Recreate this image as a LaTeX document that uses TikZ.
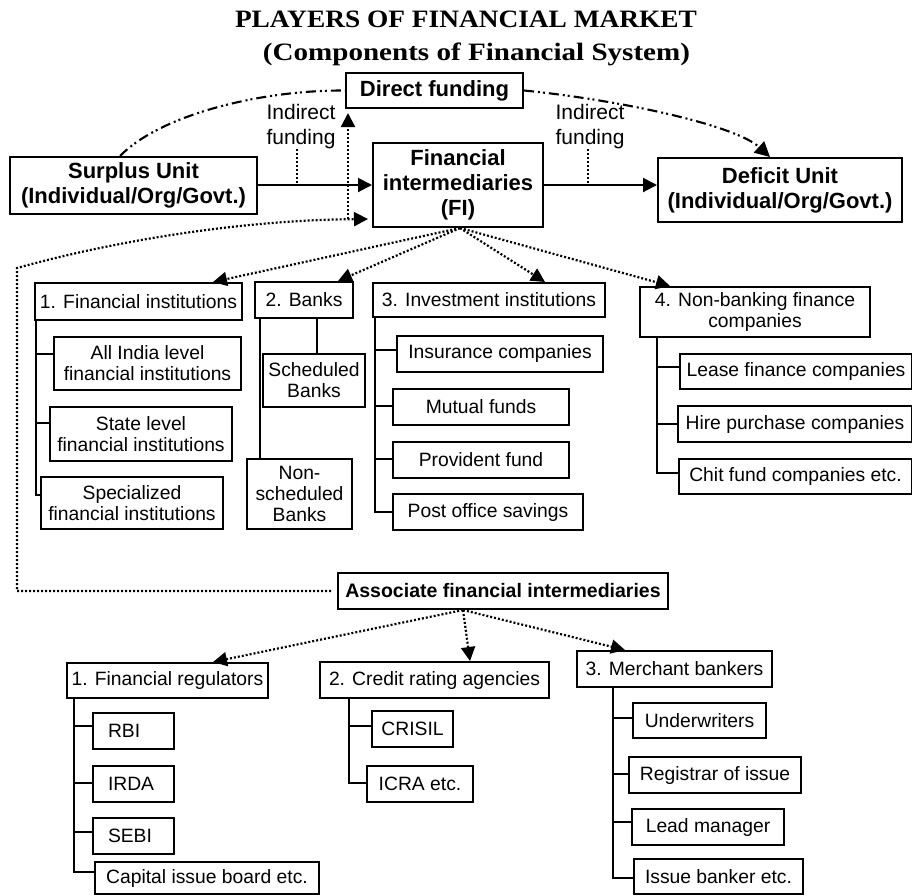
\documentclass[tikz,border=0pt]{standalone}
\usepackage{fontspec}
\usepackage{graphicx}
\setmainfont{Liberation Sans}
\newfontfamily\titlefont{Liberation Serif}
\usetikzlibrary{arrows.meta}
\newcommand\bx[7][]{%
  \pgfmathsetmacro\bxcx{(#3+#5)/2}%
  \pgfmathsetmacro\bxcy{(#4+#6)/2}%
  \pgfmathsetmacro\bxw{#5-#3}%
  \pgfmathsetmacro\bxh{#6-#4}%
  \node[boxst,minimum width=\bxw pt,minimum height=\bxh pt,#1] (#2) at (\bxcx,\bxcy) {#7};%
}
\tikzset{
 boxst/.style={draw, line width=2pt, inner sep=0pt, align=center, font=\fontsize{19.3}{21}\selectfont},
 boldbig/.style={font=\bfseries\fontsize{22}{25}\selectfont},
 boldsm/.style={font=\bfseries\fontsize{19.5}{22}\selectfont},
 lbl/.style={align=center, inner sep=0pt, font=\fontsize{21}{25}\selectfont},
 arr/.style={line width=2pt, -{Triangle[length=14pt,width=14pt]}},
 dotln/.style={line width=2.2pt, dash pattern=on 2pt off 2pt},
 dotarr/.style={dotln, -{Triangle[length=14pt,width=14pt]}},
 ddash/.style={line width=2.1pt, dash pattern=on 10pt off 4pt on 2pt off 3pt on 2pt off 4pt},
 trunk/.style={line width=2pt},
 lft/.style={align=left, text width=51pt},
}
\begin{document}
\begin{tikzpicture}[x=1pt,y=-1pt]
\fill[white] (0,0) rectangle (912,895);
\useasboundingbox (0,0) rectangle (912,895);

% title
\node[anchor=base, inner sep=0pt] (t1) at (466,27) {\resizebox{462pt}{\height}{\titlefont\bfseries\fontsize{25}{28}\selectfont PLAYERS OF FINANCIAL MARKET}};
\node[anchor=base, inner sep=0pt] (t2) at (476.5,60) {\resizebox{427pt}{\height}{\titlefont\bfseries\fontsize{25}{28}\selectfont (Components of Financial System)}};

% top row
\bx[boldbig]{dir}{346}{73}{523}{108}{Direct funding}
\bx[boldbig]{sur}{10}{157}{257}{214}{Surplus Unit\\(Individual/Org/Govt.)}
\bx[boldbig]{fi}{373}{143}{543}{227}{Financial\\intermediaries\\(FI)}
\bx[boldbig]{def}{658}{158}{902}{222}{Deficit Unit\\(Individual/Org/Govt.)}
\node[lbl] (ind1) at (301,127) {Indirect\\funding};
\node[lbl] (ind2) at (590,127) {Indirect\\funding};

% middle
\bx{fin1}{35}{283}{242}{320}{1. Financial institutions}
\bx{alli}{54}{337}{241}{390}{All India level\\financial institutions}
\bx{state}{50}{407}{232}{461}{State level\\financial institutions}
\bx{spec}{41}{477}{223}{529}{Specialized\\financial institutions}
\bx{banks}{255}{282}{353}{318}{2. Banks}
\bx{sched}{263}{354}{365}{407}{Scheduled\\Banks}
\bx{nonsch}{247}{459}{352}{529}{Non-\\scheduled\\Banks}
\bx{inv}{373}{283}{605}{317}{3. Investment institutions}
\bx{ins}{397}{336}{603}{372}{Insurance companies}
\bx{mut}{393}{389}{569}{425}{Mutual funds}
\bx{prov}{393}{442}{569}{478}{Provident fund}
\bx{post}{393}{494}{583}{530}{Post office savings}
\bx{nbfc}{640}{287}{870}{337}{4. Non-banking finance\\companies}
\bx{lease}{680}{354}{912}{389}{Lease finance companies}
\bx{hire}{678}{406}{912}{442}{Hire purchase companies}
\bx{chit}{679}{459}{912}{494}{Chit fund companies etc.}

% bottom
\bx[boldsm]{assoc}{338}{573}{668}{609}{Associate financial intermediaries}
\bx{fr}{67}{663}{268}{698}{1. Financial regulators}
\bx[lft]{rbi}{93}{713}{174}{749}{RBI}
\bx[lft]{irda}{93}{766}{174}{802}{IRDA}
\bx[lft]{sebi}{93}{818}{174}{854}{SEBI}
\bx{cap}{95}{862}{319}{894}{Capital issue board etc.}
\bx{cra}{320}{662}{549}{698}{2. Credit rating agencies}
\bx{crisil}{372}{711}{453}{747}{CRISIL}
\bx{icra}{367}{766}{473}{802}{ICRA etc.}
\bx{mb}{577}{651}{772}{687}{3. Merchant bankers}
\bx{und}{633}{703}{766}{738}{Underwriters}
\bx{reg}{629}{757}{801}{793}{Registrar of issue}
\bx{lead}{632}{809}{784}{845}{Lead manager}
\bx{iss}{634}{859}{803}{894}{Issue banker etc.}

% coordinates
\coordinate (cB) at (17,268);
\coordinate (upS) at (348,219);
\coordinate (fb) at ([xshift=2pt]fi.south);
\coordinate (ab) at (assoc.south -| 463,0);

% solid arrows
\draw[arr] (fi.west -| sur.east) -- (fi.west);
\draw[arr] (fi.east) -- (fi.east -| def.west);
\draw[dotln] (ind1.south -| 297,0) -- (fi.west -| 297,0);
\draw[dotln] (ind2.south -| 588,0) -- (fi.east -| 588,0);

% direct funding
\draw[ddash] (sur.north -| 120,0) .. controls (160,115) and (260,90) .. (dir.west);
\draw[ddash,-{Triangle[length=15pt,width=15pt]}] (dir.east) .. controls (620,100) and (735,125) .. (def.north -| 770,0);

% associate loop
\draw[dotarr, shorten >=4pt] ([xshift=-6pt]assoc.west) -| (cB) .. controls (125,238) and (250,220) .. (fi.west |- upS);
\draw[dotarr, shorten >=4pt] (upS) -- (dir.south -| upS);

% FI fan
\draw[dotarr] (fb) -- (fin1.north -| 213,0);
\draw[dotarr] (fb) -- (banks.north -| 338,0);
\draw[dotarr] (fb) -- (inv.north -| 545,0);
\draw[dotarr] (fb) -- (nbfc.north -| 670,0);

% associate fan
\draw[dotarr] (ab) -- (fr.north -| 213,0);
\draw[dotarr] (ab) -- (cra.north -| 470,0);
\draw[dotarr] (ab) -- (mb.north -| 625,0);

% trees
\draw[trunk] (fin1.south -| 36,0) |- (spec.west |- 0,495)
  (36,354) -- (alli.west |- 0,354) (36,423) -- (state.west |- 0,423);
\draw[trunk] (banks.south -| 260,0) -- (nonsch.north -| 260,0);
\draw[trunk] (banks.south -| 317,0) -- (sched.north -| 317,0);
\draw[trunk] (inv.south -| 375,0) |- (post.west |- 0,512)
  (375,350) -- (ins.west |- 0,350) (375,406) -- (mut.west |- 0,406) (375,459) -- (prov.west |- 0,459);
\draw[trunk] (nbfc.south -| 657,0) |- (chit.west |- 0,473)
  (657,367) -- (lease.west |- 0,367) (657,424) -- (hire.west |- 0,424);
\draw[trunk] (fr.south -| 74,0) |- (cap.west |- 0,872)
  (74,726) -- (rbi.west |- 0,726) (74,783) -- (irda.west |- 0,783) (74,832) -- (sebi.west |- 0,832);
\draw[trunk] (cra.south -| 349,0) |- (icra.west |- 0,783)
  (349,726) -- (crisil.west |- 0,726);
\draw[trunk] (mb.south -| 613,0) |- (iss.west |- 0,878)
  (613,718) -- (und.west |- 0,718) (613,774) -- (reg.west |- 0,774) (613,822) -- (lead.west |- 0,822);
\end{tikzpicture}
\end{document}
